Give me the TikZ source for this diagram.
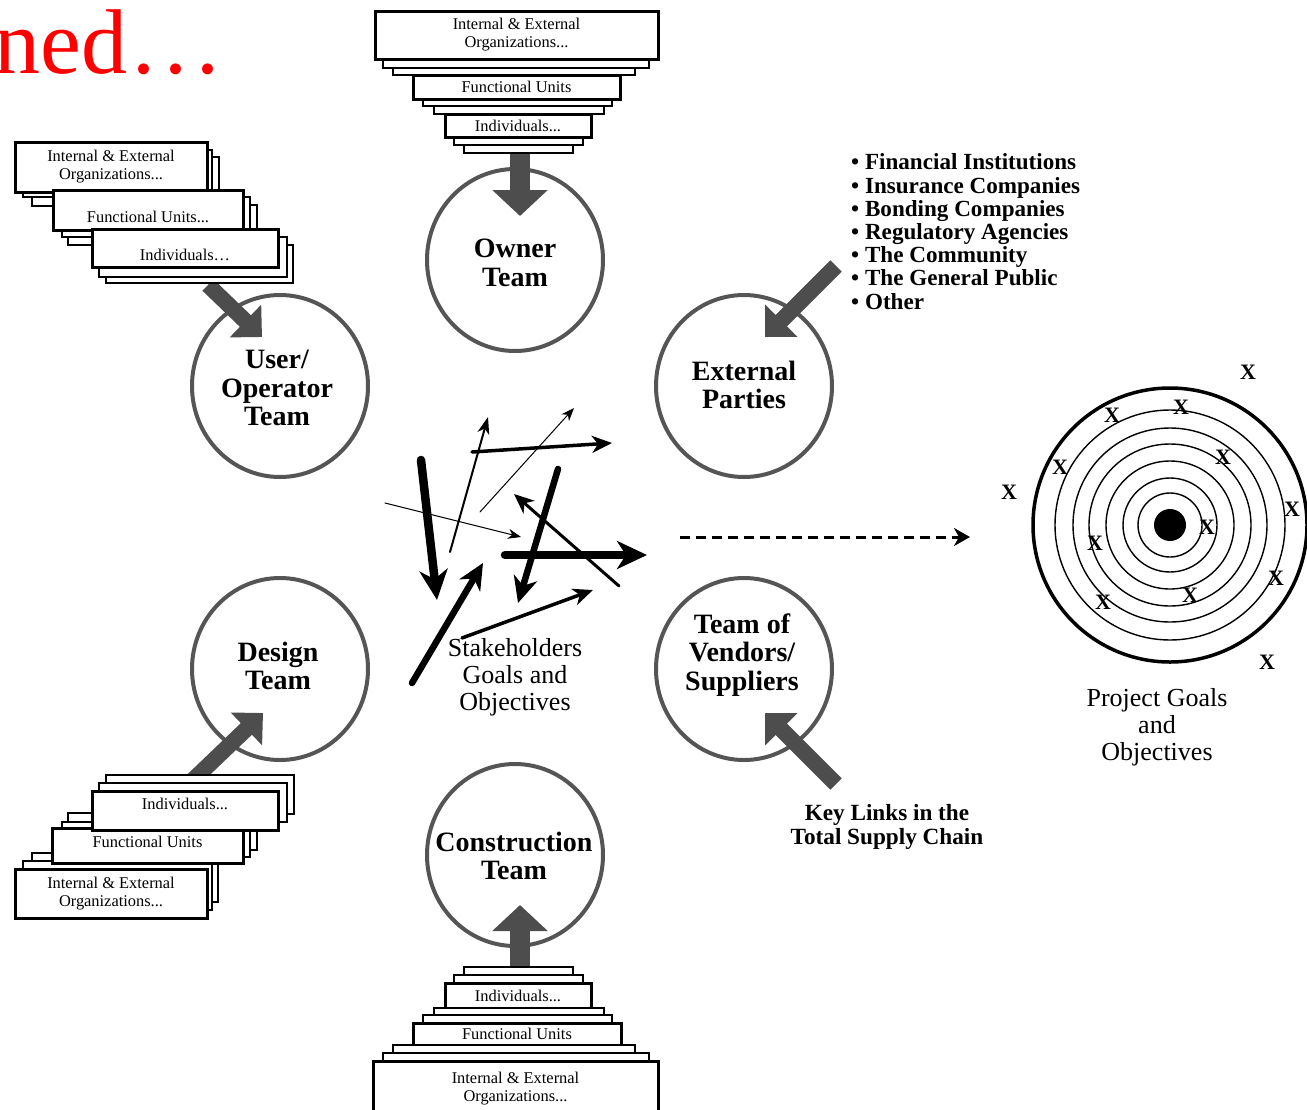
\documentclass[tikz,border=0pt]{standalone}
\usepackage{fontspec}
\setmainfont{Liberation Serif}
\usetikzlibrary{arrows.meta,shapes.geometric}
\definecolor{ringgray}{HTML}{555555}
\definecolor{blockgray}{HTML}{4D4D4D}
\tikzset{
  ring/.style={ellipse,draw=ringgray,line width=4pt,minimum width=176pt,minimum height=182pt,inner sep=0pt},
  ringtext/.style={align=center,font=\fontsize{28}{28.5}\selectfont\bfseries,inner sep=0pt},
  layer/.style={draw,fill=white,line width=1.1pt},
  orgbox/.style={draw,fill=white,line width=3pt,inner sep=0pt,align=center,font=\fontsize{16.4}{18}\selectfont},
  feedarr/.style={draw=blockgray,line width=20pt,-{Triangle[length=26pt,width=54pt]}},
  feeddiag/.style={draw=blockgray,line width=16pt,-{Triangle[length=23pt,width=44pt]}},
  hairarr/.style={line width=1pt,line cap=round,-{Stealth[length=13pt,width=10pt,inset=4pt]}},
  thinarr/.style={line width=2pt,line cap=round,-{Stealth[length=17pt,width=12pt,inset=5pt]}},
  midarr/.style={line width=3.5pt,line cap=round,-{Stealth[length=20pt,width=17pt,inset=6pt]}},
  boldarr/.style={line width=6.5pt,line cap=round,-{Stealth[length=26pt,width=24pt,inset=8pt]}},
  heavyarr/.style={line width=8.5pt,line cap=round,-{Stealth[length=30pt,width=28pt,inset=9pt]}},
  goalarr/.style={line width=3pt,dash pattern=on 10pt off 6pt,-{Stealth[length=16pt,width=18pt,inset=5pt]}},
  bigtext/.style={align=center,font=\fontsize{26}{27}\selectfont,inner sep=0pt},
  listtext/.style={align=left,font=\fontsize{23.1}{23.2}\selectfont\bfseries,inner sep=0pt},
  xmark/.style={font=\fontsize{22}{22}\selectfont\bfseries,inner sep=0pt},
  ringthin/.style={line width=1.4pt},
  ringthick/.style={line width=3.5pt}
}

\begin{document}
\begin{tikzpicture}[x=1pt,y=-1pt]
  \useasboundingbox (0,0) rectangle (1307,1109);

  % title fragment
  \node[anchor=base west,text=red,font=\fontsize{92}{94}\selectfont,inner sep=0pt] (title) at (-6,73) {ned\kern5pt.\kern9pt.\kern9pt.};

  % team circles
  \node[ring] (owner) at (515,260) {};
  \node[ring] (user) at (280,386) {};
  \node[ring] (ext) at (744,386) {};
  \node[ring] (design) at (280,669) {};
  \node[ring] (vendor) at (744,669) {};
  \node[ring] (constr) at (515,855) {};
  \node[ringtext] (ownerTxt) at (515,263) {Owner\\Team};
  \node[ringtext] (userTxt) at (277,388) {User/\\Operator\\Team};
  \node[ringtext] (extTxt) at (744,385) {External\\Parties};
  \node[ringtext] (designTxt) at (278,666) {Design\\Team};
  \node[ringtext] (vendorTxt) at (742,655) {Team of\\Vendors/\\Suppliers};
  \node[ringtext] (constrTxt) at (514,856) {Construction\\Team};

  % feed arrows into the circles
  \coordinate (ownerIn) at (520,152);
  \coordinate (ownerTip) at (520,216);
  \coordinate (userIn) at (208,285);
  \coordinate (userTip) at (262,337);
  \coordinate (extIn) at (836,266);
  \coordinate (extTip) at (765,337);
  \coordinate (designIn) at (193,780);
  \coordinate (designTip) at (263,713);
  \coordinate (vendorIn) at (836,784);
  \coordinate (vendorTip) at (765,713);
  \coordinate (constrIn) at (520,970);
  \coordinate (constrTip) at (520,905);
  \draw[feedarr] (ownerIn) -- (ownerTip);
  \draw[feeddiag] (userIn) -- (userTip);
  \draw[feeddiag] (extIn) -- (extTip);
  \draw[feeddiag] (designIn) -- (designTip);
  \draw[feeddiag] (vendorIn) -- (vendorTip);
  \draw[feedarr] (constrIn) -- (constrTip);

  % owner stack (top)
  \draw[layer] (393,35) rectangle (635,75);
  \draw[layer] (383,35) rectangle (649,68);
  \node[orgbox,minimum width=283,minimum height=48] (topOrg) at (516.5,35) {Internal \& External\\Organizations...};
  \draw[layer] (434,87) rectangle (604,114);
  \draw[layer] (423,87) rectangle (612,106);
  \node[orgbox,minimum width=207,minimum height=24] (topFun) at (516.5,87) {Functional Units};
  \draw[layer] (464,125) rectangle (573,153);
  \draw[layer] (454,125) rectangle (583,145);
  \node[orgbox,minimum width=146,minimum height=23] (topInd) at (518,125.5) {Individuals...};

  % construction stack (bottom)
  \draw[layer] (464,967) rectangle (573,995);
  \draw[layer] (454,975) rectangle (583,995);
  \node[orgbox,minimum width=146,minimum height=25] (botInd) at (518,995.5) {Individuals...};
  \draw[layer] (434,1008) rectangle (604,1034);
  \draw[layer] (423,1015) rectangle (612,1034);
  \node[orgbox,minimum width=208,minimum height=22] (botFun) at (517,1034) {Functional Units};
  \draw[layer] (393,1045) rectangle (635,1080);
  \draw[layer] (383,1053) rectangle (649,1080);
  \node[orgbox,minimum width=285,minimum height=56] (botOrg) at (515.5,1089) {Internal \& External\\Organizations...};

  % user/operator stack (upper left)
  \draw[layer] (32,157) rectangle (219,206);
  \draw[layer] (23,150) rectangle (212,197);
  \node[orgbox,minimum width=192,minimum height=50] (ulOrg) at (111,167) {Internal \& External\\Organizations...};
  \draw[layer] (68,205) rectangle (257,245);
  \draw[layer] (62,197) rectangle (250,237);
  \node[orgbox,minimum width=190,minimum height=40,text height=27pt,text depth=3pt] (ulFun) at (148,210) {Functional Units...};
  \draw[layer] (106,245) rectangle (293,283);
  \draw[layer] (99,237) rectangle (287,277);
  \node[orgbox,minimum width=186,minimum height=38,text height=27pt,text depth=3pt] (ulInd) at (185,248) {Individuals\ldots};

  % design stack (lower left)
  \draw[layer] (32,853) rectangle (218,902);
  \draw[layer] (23,861) rectangle (212,910);
  \node[orgbox,minimum width=192,minimum height=49] (llOrg) at (111,893.5) {Internal \& External\\Organizations...};
  \draw[layer] (68,813) rectangle (257,850);
  \draw[layer] (62,822) rectangle (250,857);
  \node[orgbox,minimum width=191,minimum height=35,text height=11pt,text depth=8pt] (llFun) at (147.5,845.5) {Functional Units};
  \draw[layer] (106,775) rectangle (294,814);
  \draw[layer] (99,783) rectangle (287,822);
  \node[orgbox,minimum width=186,minimum height=39,text height=11pt,text depth=14pt] (llInd) at (185,810.5) {Individuals...};

  % external parties list
  \node[listtext,anchor=west] (extList) at (851,231.5) {\textbullet\ Financial Institutions\\\textbullet\ Insurance Companies\\\textbullet\ Bonding Companies\\\textbullet\ Regulatory Agencies\\\textbullet\ The Community\\\textbullet\ The General Public\\\textbullet\ Other};
  \node[align=center,font=\fontsize{23.2}{24}\selectfont\bfseries,inner sep=0pt] (keyLinks) at (887,827) {Key Links in the\\Total Supply Chain};

  % stakeholder arrows
  \coordinate (sg1) at (421,460);
  \coordinate (sg1tip) at (437,600);
  \coordinate (sg2) at (450,552);
  \coordinate (sg2tip) at (488,417);
  \coordinate (sg3) at (472,452);
  \coordinate (sg3tip) at (612,443);
  \coordinate (sg4) at (480,512);
  \coordinate (sg4tip) at (574,408);
  \coordinate (sg5) at (385,503);
  \coordinate (sg5tip) at (521,537);
  \coordinate (sg6) at (558,469);
  \coordinate (sg6tip) at (518,603);
  \coordinate (sg7) at (619,586);
  \coordinate (sg7tip) at (514,494);
  \coordinate (sg8) at (505,555);
  \coordinate (sg8tip) at (647,555);
  \coordinate (sg9) at (462,638);
  \coordinate (sg9tip) at (593,590);
  \coordinate (sg10) at (412,683);
  \coordinate (sg10tip) at (483,563);
  \draw[heavyarr] (sg1) -- (sg1tip);
  \draw[thinarr] (sg2) -- (sg2tip);
  \draw[midarr] (sg3) -- (sg3tip);
  \draw[hairarr] (sg4) -- (sg4tip);
  \draw[hairarr] (sg5) -- (sg5tip);
  \draw[boldarr] (sg6) -- (sg6tip);
  \draw[midarr,line width=3pt] (sg7) -- (sg7tip);
  \draw[heavyarr] (sg8) -- (sg8tip);
  \draw[midarr] (sg9) -- (sg9tip);
  \draw[boldarr] (sg10) -- (sg10tip);
  \node[bigtext] (stake) at (515,677) {Stakeholders\\Goals and\\Objectives};

  % toward the target
  \coordinate (goalFrom) at (680,537);
  \coordinate (goalTo) at (970,537);
  \draw[goalarr] (goalFrom) -- (goalTo);

  % target
  \coordinate (tgt) at (1170,525);
  \draw[ringthick] (tgt) circle[radius=137];
  \draw[ringthin] (tgt) circle[radius=115];
  \draw[ringthin] (tgt) circle[radius=97];
  \draw[ringthin] (tgt) circle[radius=81];
  \draw[ringthin] (tgt) circle[radius=64];
  \draw[ringthin] (tgt) circle[radius=47];
  \draw[ringthin] (tgt) circle[radius=32];
  \fill (tgt) circle[radius=16];
  \node[xmark] (xm1) at (1248,372) {X};
  \node[xmark] (xm2) at (1112,415) {X};
  \node[xmark] (xm3) at (1181,407) {X};
  \node[xmark] (xm4) at (1060,467) {X};
  \node[xmark] (xm5) at (1223,457) {X};
  \node[xmark] (xm6) at (1009,492) {X};
  \node[xmark] (xm7) at (1292,509) {X};
  \node[xmark] (xm8) at (1207,527) {X};
  \node[xmark] (xm9) at (1095,543) {X};
  \node[xmark] (xm10) at (1276,578) {X};
  \node[xmark] (xm11) at (1190,595) {X};
  \node[xmark] (xm12) at (1103,602) {X};
  \node[xmark] (xm13) at (1267,662) {X};
  \node[bigtext] (goals) at (1157,727) {Project Goals\\and\\Objectives};
\end{tikzpicture}
\end{document}
